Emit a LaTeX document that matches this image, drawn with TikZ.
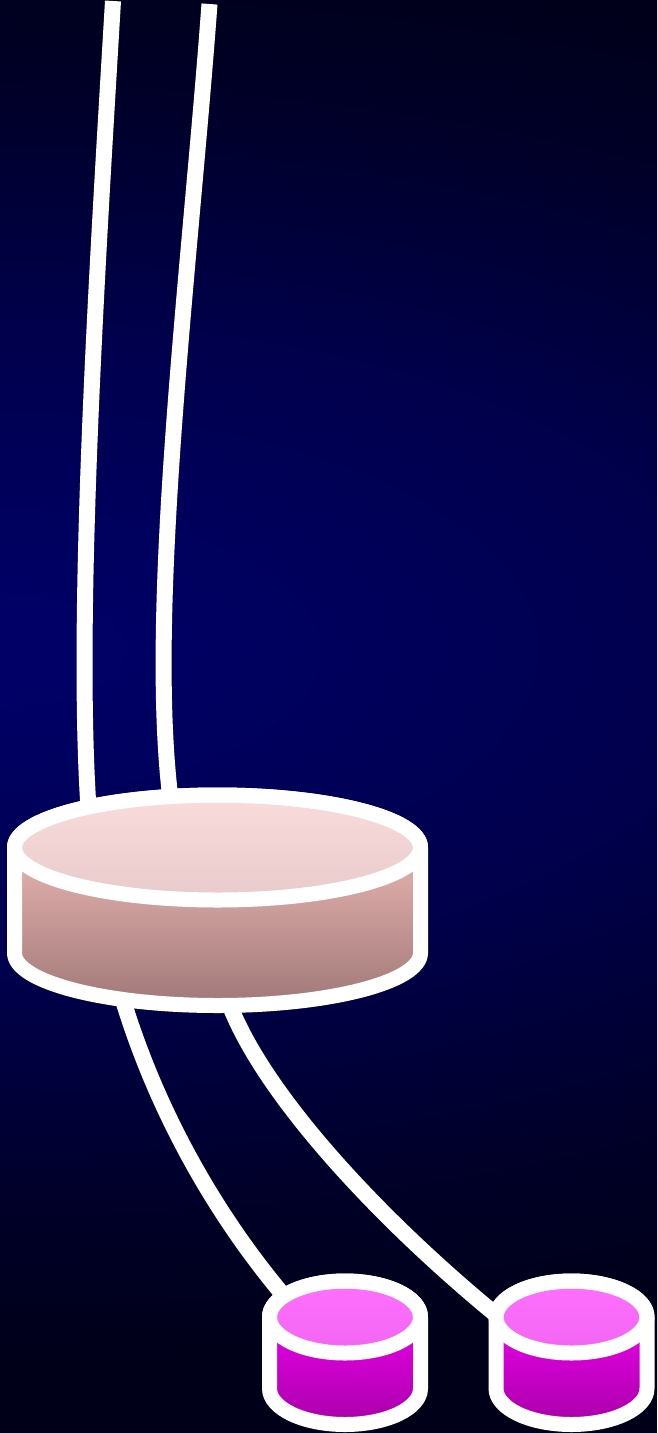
\documentclass[tikz,border=0pt]{standalone}
\definecolor{bgc}{HTML}{000066}
\definecolor{bgm}{HTML}{00004C}
\definecolor{bgn}{HTML}{000028}
\definecolor{bgd}{HTML}{000018}
\definecolor{bigtopA}{HTML}{FADCDC}
\definecolor{bigtopB}{HTML}{E8CACC}
\definecolor{bigbodyA}{HTML}{E6B4B0}
\definecolor{bigbodyB}{HTML}{A07878}
\definecolor{smtopA}{HTML}{FF70FF}
\definecolor{smtopB}{HTML}{F264F2}
\definecolor{smbodyA}{HTML}{EA00EA}
\definecolor{smbodyB}{HTML}{A800A8}
\pgfdeclareradialshading{bgglow}{\pgfpoint{0bp}{0bp}}{color(0bp)=(bgc); color(1.25bp)=(bgc); color(10bp)=(bgm); color(17.5bp)=(bgn); color(22.5bp)=(bgd); color(50bp)=(bgd)}
\tikzset{
  wire/.style={draw=white, line width=16pt},
  rim/.style={draw=white, line width=15pt, line join=round},
}
\newcommand\drawcyl[9]{%
  \shade[top color=#8, bottom color=#9] (#1-#4,#2) -- (#1-#4,#3)
    arc[start angle=180, end angle=0, x radius=#4, y radius=#5] -- (#1+#4,#2)
    arc[start angle=0, end angle=180, x radius=#4, y radius=#5] -- cycle;
  \shade[top color=#6, bottom color=#7] (#1,#2) ellipse [x radius=#4, y radius=#5];
  \draw[rim] (#1-#4,#2) -- (#1-#4,#3)
    arc[start angle=180, end angle=0, x radius=#4, y radius=#5] -- (#1+#4,#2)
    arc[start angle=0, end angle=-180, x radius=#4, y radius=#5] -- cycle;
  \draw[rim] (#1,#2) ellipse [x radius=#4, y radius=#5];
}
\begin{document}
\begin{tikzpicture}[x=1pt, y=-1pt]
  \useasboundingbox (0,0) rectangle (657,1433);
  \begin{scope}
    \clip (0,0) rectangle (657,1433);
    \fill[bgd] (0,0) rectangle (657,1433);
    \shade[shading=bgglow] (0,650) ellipse [x radius=1800, y radius=800];
  \end{scope}
  % connector end points
  \coordinate (inA) at (113,1);
  \coordinate (inB) at (209.5,4);
  \coordinate (bigtopL) at (89,815);
  \coordinate (bigtopR) at (172,810);
  \coordinate (bigbotL) at (120,990);
  \coordinate (bigbotR) at (226,995);
  \coordinate (smLtop) at (290,1303);
  \coordinate (smRtop) at (500,1318);
  % connectors
  \draw[wire] (inA) .. controls (97,270) and (75,620) .. (bigtopL);
  \draw[wire] (inB) .. controls (190,270) and (145,620) .. (bigtopR);
  \draw[wire] (bigbotL) .. controls (152,1100) and (210,1210) .. (smLtop);
  \draw[wire] (bigbotR) .. controls (258,1090) and (380,1220) .. (smRtop);
  % cylinders
  \drawcyl{217.5}{847.5}{953}{203}{52.5}{bigtopA}{bigtopB}{bigbodyA}{bigbodyB}
  \drawcyl{345}{1317}{1388.5}{75.5}{36}{smtopA}{smtopB}{smbodyA}{smbodyB}
  \drawcyl{571.5}{1317}{1388.5}{75.5}{36}{smtopA}{smtopB}{smbodyA}{smbodyB}
  \coordinate (bigcyl) at (217.5,900);
  \coordinate (smallL) at (345,1352);
  \coordinate (smallR) at (571.5,1352);
\end{tikzpicture}
\end{document}
